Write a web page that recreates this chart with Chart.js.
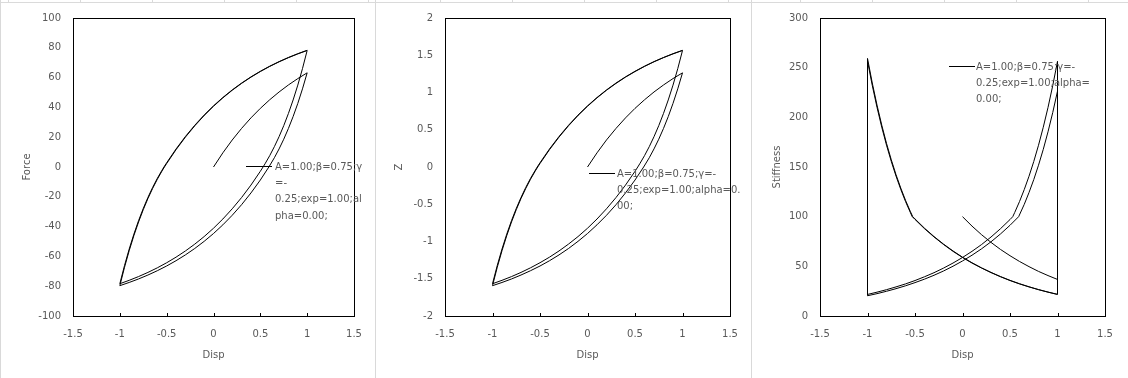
<!DOCTYPE html>
<html lang="en">
<head>
<meta charset="UTF-8">
<title>Bouc-Wen hysteresis</title>
<script src="https://cdn.jsdelivr.net/npm/chart.js@4.4.1/dist/chart.umd.min.js"></script>
<style>
  html, body { margin: 0; padding: 0; background: #fff; }
  body { width: 1128px; height: 378px; position: relative; overflow: hidden; }
  .panel { position: absolute; top: 0; }
  .sep { position: absolute; top: 0; width: 1px; height: 378px; background: #d9d9d9; }
  .topstrip {
    position: absolute; left: 0; top: 0; width: 1128px; height: 2px;
    border-bottom: 1px solid #dadada;
    background: linear-gradient(to right, #dadada 0 1px, transparent 1px) 8px 0 / 72px 2px repeat-x;
  }
</style>
</head>
<body>
  <div class="panel" style="left:0"><canvas id="forceChart" width="375" height="378"></canvas></div>
  <div class="panel" style="left:376px"><canvas id="zChart" width="375" height="378"></canvas></div>
  <div class="panel" style="left:752px"><canvas id="stiffChart" width="376" height="378"></canvas></div>
  <div class="sep" style="left:0"></div>
  <div class="sep" style="left:375px"></div>
  <div class="sep" style="left:751px"></div>
  <div class="topstrip"></div>

<script>
// displacement path: 0 -> 1 -> -1 -> 1 -> -1 -> 1 (one row per branch)
const disp = [
  0, 0.1, 0.2, 0.3, 0.4, 0.5, 0.6, 0.7, 0.8, 0.9, 1,
  1, 0.95, 0.9, 0.85, 0.8, 0.75, 0.7, 0.65, 0.591, 0.5, 0.4, 0.3, 0.2, 0.1, 0, -0.1, -0.2, -0.3, -0.4, -0.5, -0.6, -0.7, -0.8, -0.9, -1,
  -1, -0.95, -0.9, -0.85, -0.8, -0.75, -0.7, -0.65, -0.6, -0.55, -0.524, -0.5, -0.4, -0.3, -0.2, -0.1, 0, 0.1, 0.2, 0.3, 0.4, 0.5, 0.6, 0.7, 0.8, 0.9, 1,
  1, 0.95, 0.9, 0.85, 0.8, 0.75, 0.7, 0.65, 0.6, 0.55, 0.529, 0.5, 0.4, 0.3, 0.2, 0.1, 0, -0.1, -0.2, -0.3, -0.4, -0.5, -0.6, -0.7, -0.8, -0.9, -1,
  -1, -0.95, -0.9, -0.85, -0.8, -0.75, -0.7, -0.65, -0.6, -0.55, -0.529, -0.5, -0.4, -0.3, -0.2, -0.1, 0, 0.1, 0.2, 0.3, 0.4, 0.5, 0.6, 0.7, 0.8, 0.9, 1
];
const force = [
  0, 9.52, 18.13, 25.92, 32.97, 39.35, 45.12, 50.34, 55.07, 59.34, 63.21,
  63.21, 52.44, 42.69, 33.87, 25.89, 18.66, 12.13, 6.22, 0, -8.74, -17.42, -25.28, -32.39, -38.82, -44.65, -49.91, -54.68, -58.99, -62.89, -66.43, -69.62, -72.51, -75.13, -77.49, -79.64,
  -79.64, -67.30, -56.14, -46.04, -36.90, -28.63, -21.15, -14.38, -8.25, -2.71, 0, 2.33, 11.63, 20.04, 27.65, 34.53, 40.76, 46.40, 51.50, 56.12, 60.29, 64.07, 67.49, 70.58, 73.38, 75.91, 78.21,
  78.21, 66.01, 54.97, 44.98, 35.94, 27.76, 20.36, 13.67, 7.60, 2.13, 0, -2.88, -12.13, -20.49, -28.05, -34.90, -41.10, -46.70, -51.77, -56.36, -60.51, -64.27, -67.67, -70.75, -73.53, -76.05, -78.33,
  -78.33, -66.11, -55.07, -45.07, -36.02, -27.83, -20.43, -13.73, -7.66, -2.18, 0, 2.83, 12.08, 20.45, 28.02, 34.87, 41.07, 46.67, 51.75, 56.34, 60.49, 64.25, 67.65, 70.73, 73.52, 76.04, 78.32
];
const zeta = [
  0, 0.190, 0.363, 0.518, 0.659, 0.787, 0.902, 1.007, 1.101, 1.187, 1.264,
  1.264, 1.049, 0.854, 0.677, 0.518, 0.373, 0.243, 0.124, 0, -0.175, -0.348, -0.506, -0.648, -0.776, -0.893, -0.998, -1.094, -1.180, -1.258, -1.329, -1.392, -1.450, -1.503, -1.550, -1.593,
  -1.593, -1.346, -1.123, -0.921, -0.738, -0.573, -0.423, -0.288, -0.165, -0.054, 0, 0.047, 0.233, 0.401, 0.553, 0.691, 0.815, 0.928, 1.030, 1.122, 1.206, 1.281, 1.350, 1.412, 1.468, 1.518, 1.564,
  1.564, 1.320, 1.099, 0.900, 0.719, 0.555, 0.407, 0.273, 0.152, 0.043, 0, -0.058, -0.243, -0.410, -0.561, -0.698, -0.822, -0.934, -1.035, -1.127, -1.210, -1.285, -1.353, -1.415, -1.471, -1.521, -1.567,
  -1.567, -1.322, -1.101, -0.901, -0.720, -0.557, -0.409, -0.275, -0.153, -0.044, 0, 0.057, 0.242, 0.409, 0.560, 0.697, 0.821, 0.933, 1.035, 1.127, 1.210, 1.285, 1.353, 1.415, 1.470, 1.521, 1.566
];
const stiffness = [
  100, 90.5, 81.9, 74.1, 67.0, 60.7, 54.9, 49.7, 44.9, 40.7, 36.8,
  226.4, 204.9, 185.4, 167.7, 151.8, 137.3, 124.3, 112.4, 100, 91.3, 82.6, 74.7, 67.6, 61.2, 55.4, 50.1, 45.3, 41.0, 37.1, 33.6, 30.4, 27.5, 24.9, 22.5, 20.4,
  259.3, 234.6, 212.3, 192.1, 173.8, 157.3, 142.3, 128.8, 116.5, 105.4, 100, 97.7, 88.4, 80.0, 72.4, 65.5, 59.2, 53.6, 48.5, 43.9, 39.7, 35.9, 32.5, 29.4, 26.6, 24.1, 21.8,
  256.4, 232.0, 209.9, 190.0, 171.9, 155.5, 140.7, 127.3, 115.2, 104.3, 100, 97.1, 87.9, 79.5, 71.9, 65.1, 58.9, 53.3, 48.2, 43.6, 39.5, 35.7, 32.3, 29.3, 26.5, 24.0, 21.7,
  256.7, 232.2, 210.1, 190.1, 172.0, 155.7, 140.9, 127.5, 115.3, 104.4, 100, 97.2, 87.9, 79.6, 72.0, 65.1, 58.9, 53.3, 48.3, 43.7, 39.5, 35.7, 32.3, 29.3, 26.5, 24.0, 21.7
];
const seriesName = 'A=1.00;β=0.75;γ=-0.25;exp=1.00;alpha=0.00;';
const xTitle = 'Disp';

Chart.defaults.font.family = '"DejaVu Sans", Verdana, sans-serif';
Chart.defaults.font.size = 10;
Chart.defaults.color = '#595959';

// plot frame, inner x ticks and the wrapped legend (Excel style)
const framePlugin = {
  id: 'frame',
  afterDraw(chart, args, opts) {
    const ctx = chart.ctx;
    const a = chart.chartArea;
    ctx.save();
    ctx.strokeStyle = '#000';
    ctx.lineWidth = 1;
    ctx.strokeRect(a.left + 0.5, a.top + 0.5, a.right - a.left, a.bottom - a.top);
    const xs = chart.scales.x;
    ctx.beginPath();
    xs.ticks.forEach(t => {
      const px = Math.round(xs.getPixelForValue(t.value)) + 0.5;
      ctx.moveTo(px, a.bottom);
      ctx.lineTo(px, a.bottom - 3);
    });
    ctx.stroke();

    const lg = opts.legend;
    ctx.beginPath();
    ctx.moveTo(lg.x1, lg.y + 0.5);
    ctx.lineTo(lg.x2, lg.y + 0.5);
    ctx.stroke();
    ctx.fillStyle = '#595959';
    ctx.font = '10px "DejaVu Sans"';
    ctx.textBaseline = 'middle';
    lg.lines.forEach((s, i) => ctx.fillText(s, lg.tx, lg.y + 1 + i * 16.4));
    ctx.restore();
  }
};

const fmt = v => String(Math.round(v * 100) / 100);

function makeChart(id, values, yMin, yMax, yStep, yTitle, yWidth, yTitlePad, padRight, legend) {
  const pts = disp.map((x, i) => ({ x: x, y: values[i] }));
  return new Chart(document.getElementById(id), {
    type: 'scatter',
    data: {
      datasets: [{
        label: seriesName,
        data: pts,
        showLine: true,
        borderColor: '#000',
        borderWidth: 1,
        pointRadius: 0,
        tension: 0
      }]
    },
    options: {
      responsive: false,
      animation: false,
      events: [],
      layout: { padding: { top: 15, right: padRight, bottom: 0, left: 0 } },
      plugins: {
        legend: { display: false },
        tooltip: { enabled: false },
        frame: { legend: legend }
      },
      scales: {
        x: {
          type: 'linear', min: -1.5, max: 1.5,
          ticks: { stepSize: 0.5, padding: 12, autoSkip: false, maxRotation: 0, callback: fmt },
          grid: { display: false, drawTicks: false },
          border: { display: false },
          title: { display: true, text: xTitle, padding: { top: 0, bottom: 17 } },
          afterFit: s => { s.height = 62; }
        },
        y: {
          type: 'linear', min: yMin, max: yMax,
          ticks: { stepSize: yStep, padding: 12, autoSkip: false, callback: fmt },
          grid: { display: false, drawTicks: false },
          border: { display: false },
          title: { display: true, text: yTitle, padding: { top: yTitlePad, bottom: 0 } },
          afterFit: s => { s.width = yWidth; }
        }
      }
    },
    plugins: [framePlugin]
  });
}

makeChart('forceChart', force, -100, 100, 20, 'Force', 73, 21, 21, {
  x1: 246, x2: 272, y: 166, tx: 275,
  lines: ['A=1.00;β=0.75;γ', '=-', '0.25;exp=1.00;al', 'pha=0.00;']
});
makeChart('zChart', zeta, -2, 2, 0.5, 'Z', 69, 17, 21, {
  x1: 213, x2: 239, y: 173, tx: 241,
  lines: ['A=1.00;β=0.75;γ=-', '0.25;exp=1.00;alpha=0.', '00;']
});
makeChart('stiffChart', stiffness, 0, 300, 50, 'Stiffness', 68, 19, 23, {
  x1: 197, x2: 223, y: 66, tx: 224,
  lines: ['A=1.00;β=0.75;γ=-', '0.25;exp=1.00;alpha=', '0.00;']
});
</script>
</body>
</html>
